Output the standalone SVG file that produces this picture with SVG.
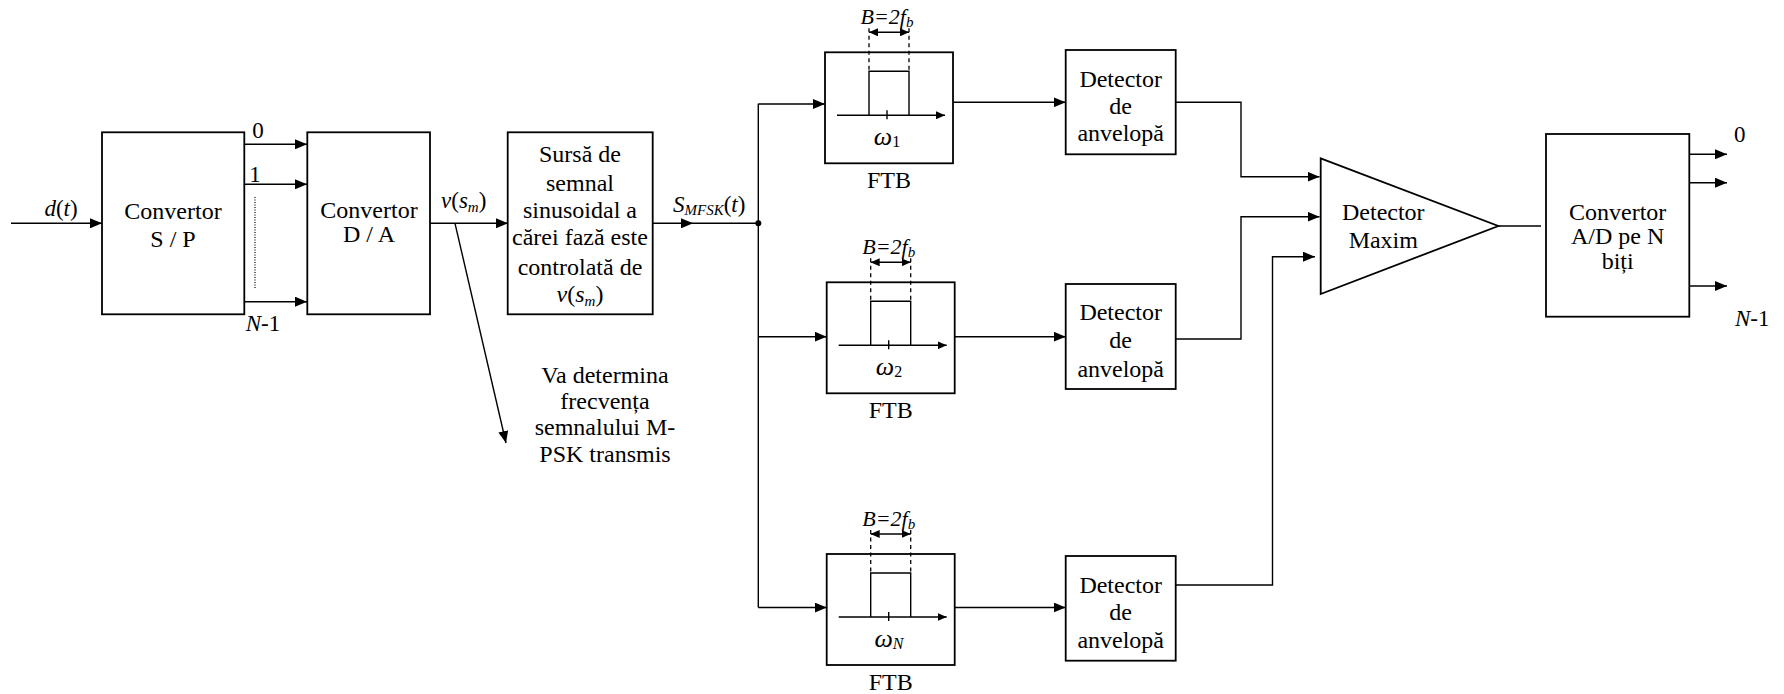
<svg xmlns="http://www.w3.org/2000/svg" width="1784" height="694" viewBox="0 0 1784 694" font-family="'Liberation Serif', 'Times New Roman', serif">
  <style>
    text { font-family: "Liberation Serif", "Times New Roman", serif; font-size: 24px; fill: #000; }
    .c { text-anchor: middle; }
    .it { font-style: italic; }
    .lbl { font-size: 23px; }
    .sub { font-size: 15px; font-style: italic; }
    .box { fill: #fff; stroke: #000; stroke-width: 1.8; }
    .ln { fill: none; stroke: #000; stroke-width: 1.4; }
    .arr { marker-end: url(#ah); }
    .dash { fill: none; stroke: #000; stroke-width: 1.3; stroke-dasharray: 4 3.5; }
    .dot { fill: none; stroke: #000; stroke-width: 1.2; stroke-dasharray: 1 1.5; }
    .om { font-size: 26px; font-style: italic; }
  </style>
  <defs>
    <marker id="ah" markerUnits="userSpaceOnUse" markerWidth="12" markerHeight="10" refX="12" refY="5" orient="auto">
      <path d="M0,0 L12,5 L0,10 z" fill="#000"/>
    </marker>
    <marker id="sm" markerUnits="userSpaceOnUse" markerWidth="9" markerHeight="8" refX="9" refY="4" orient="auto-start-reverse">
      <path d="M0,0 L9,4 L0,8 z" fill="#000"/>
    </marker>
    <!-- band-pass filter symbol, local coordinates with box origin at top-left -->
    <g id="ftb">
      <rect class="box" x="0" y="0" width="128" height="111"/>
      <path class="ln" d="M44,63 V19 H84 V63"/>
      <line class="ln" x1="12" y1="63" x2="120" y2="63" marker-end="url(#sm)"/>
      <line class="ln" x1="62" y1="58" x2="62" y2="67"/>
      <line class="dash" x1="44" y1="-24" x2="44" y2="19"/>
      <line class="dash" x1="84" y1="-24" x2="84" y2="19"/>
      <line class="ln" x1="44" y1="-20" x2="84" y2="-20" marker-start="url(#sm)" marker-end="url(#sm)"/>
      <text class="c it" x="62" y="-28" style="font-size:22px">B=2f<tspan class="sub" dy="3">b</tspan></text>
      <text class="c" x="64" y="136">FTB</text>
    </g>
  </defs>

  <!-- connectors -->
  <g id="connectors">
    <line class="ln arr" x1="11" y1="223.3" x2="102" y2="223.3"/>
    <line class="ln arr" x1="244" y1="144.3" x2="307" y2="144.3"/>
    <line class="ln arr" x1="244" y1="184.3" x2="307" y2="184.3"/>
    <line class="ln arr" x1="244" y1="301.7" x2="307" y2="301.7"/>
    <line class="dot" x1="255" y1="197" x2="255" y2="288"/>
    <line class="ln arr" x1="430" y1="223.3" x2="508" y2="223.3"/>
    <line class="ln arr" x1="455" y1="223.3" x2="506" y2="443"/>
    <line class="ln arr" x1="653" y1="223.3" x2="693" y2="223.3"/>
    <line class="ln" x1="693" y1="223.3" x2="758.3" y2="223.3"/>
    <circle cx="758.3" cy="223.3" r="3" fill="#000"/>
    <line class="ln" x1="758.3" y1="103.7" x2="758.3" y2="607.5"/>
    <line class="ln arr" x1="758.3" y1="104" x2="825" y2="104"/>
    <line class="ln arr" x1="758.3" y1="336.7" x2="826.7" y2="336.7"/>
    <line class="ln arr" x1="758.3" y1="607.5" x2="826.7" y2="607.5"/>
    <line class="ln arr" x1="953" y1="102.3" x2="1065.7" y2="102.3"/>
    <line class="ln arr" x1="955" y1="336.7" x2="1065.7" y2="336.7"/>
    <line class="ln arr" x1="955" y1="607.5" x2="1065.7" y2="607.5"/>
    <polyline class="ln arr" points="1175.7,102.3 1241,102.3 1241,176.7 1319.5,176.7"/>
    <polyline class="ln arr" points="1175.7,339 1241,339 1241,216.7 1319.5,216.7"/>
    <polyline class="ln arr" points="1175.7,585 1272.5,585 1272.5,256.7 1315,256.7"/>
    <line class="ln" x1="1498.3" y1="226" x2="1541" y2="226"/>
    <line class="ln arr" x1="1689.3" y1="154.3" x2="1727" y2="154.3"/>
    <line class="ln arr" x1="1689.3" y1="182.7" x2="1727" y2="182.7"/>
    <line class="ln arr" x1="1689.3" y1="286" x2="1727" y2="286"/>
  </g>

  <!-- connector labels -->
  <g id="labels">
    <text class="c lbl" x="61" y="215.7"><tspan class="it">d</tspan>(<tspan class="it">t</tspan>)</text>
    <text class="c lbl" x="258" y="138">0</text>
    <text class="c lbl" x="255" y="182">1</text>
    <text class="c lbl" x="263" y="331"><tspan class="it">N</tspan>-1</text>
    <text class="lbl" x="441" y="208"><tspan class="it">v</tspan>(<tspan class="it">s</tspan><tspan class="sub" dy="4">m</tspan><tspan dy="-4">)</tspan></text>
    <text class="lbl" x="673" y="211.7"><tspan class="it">S</tspan><tspan class="sub" dy="3">MFSK</tspan><tspan dy="-3">(</tspan><tspan class="it">t</tspan>)</text>
    <text class="c" x="605" y="383.3">Va determina</text>
    <text class="c" x="605" y="409">frecvența</text>
    <text class="c" x="605" y="435.3">semnalului M-</text>
    <text class="c" x="605" y="461.7">PSK transmis</text>
    <text class="lbl" x="1734" y="141.7">0</text>
    <text class="lbl" x="1735" y="326"><tspan class="it">N</tspan>-1</text>
  </g>

  <g id="sp">
    <rect class="box" x="102" y="132.3" width="142.3" height="182"/>
    <text class="c" x="173" y="219">Convertor</text>
    <text class="c" x="173" y="246.7">S / P</text>
  </g>

  <g id="da">
    <rect class="box" x="307.3" y="132.3" width="122.7" height="182"/>
    <text class="c" x="369" y="218.3">Convertor</text>
    <text class="c" x="369" y="241.7">D / A</text>
  </g>

  <g id="source">
    <rect class="box" x="507.7" y="132.3" width="145" height="182"/>
    <text class="c" x="580" y="161.7">Sursă de</text>
    <text class="c" x="580" y="190.7">semnal</text>
    <text class="c" x="580" y="218.3">sinusoidal a</text>
    <text class="c" x="580" y="245.3">cărei fază este</text>
    <text class="c" x="580" y="274.7">controlată de</text>
    <text class="c" x="580" y="301.7"><tspan class="it">v</tspan>(<tspan class="it">s</tspan><tspan class="sub" dy="4">m</tspan><tspan dy="-4">)</tspan></text>
  </g>

  <g id="ftb1">
    <use href="#ftb" x="825" y="52.3"/>
    <text class="c" x="887" y="145"><tspan class="om">ω</tspan><tspan style="font-size:16px" dy="2">1</tspan></text>
  </g>
  <g id="ftb2">
    <use href="#ftb" x="826.7" y="282.3"/>
    <text class="c" x="889" y="375"><tspan class="om">ω</tspan><tspan style="font-size:16px" dy="2">2</tspan></text>
  </g>
  <g id="ftb3">
    <use href="#ftb" x="826.7" y="554"/>
    <text class="c" x="889" y="646.7"><tspan class="om">ω</tspan><tspan class="sub" style="font-size:16px" dy="2">N</tspan></text>
  </g>

  <g id="det1">
    <rect class="box" x="1065.7" y="50" width="110" height="104.3"/>
    <text class="c" x="1120.7" y="86.7">Detector</text>
    <text class="c" x="1120.7" y="114.3">de</text>
    <text class="c" x="1120.7" y="141">anvelopă</text>
  </g>
  <g id="det2">
    <rect class="box" x="1065.7" y="284" width="110" height="105"/>
    <text class="c" x="1120.7" y="320">Detector</text>
    <text class="c" x="1120.7" y="348.3">de</text>
    <text class="c" x="1120.7" y="376.7">anvelopă</text>
  </g>
  <g id="det3">
    <rect class="box" x="1065.7" y="556" width="110" height="104.7"/>
    <text class="c" x="1120.7" y="593.3">Detector</text>
    <text class="c" x="1120.7" y="620">de</text>
    <text class="c" x="1120.7" y="648.3">anvelopă</text>
  </g>

  <g id="maxdet">
    <polygon class="box" points="1320.7,158.3 1498.3,226 1320.7,294"/>
    <text class="c" x="1383.3" y="220">Detector</text>
    <text class="c" x="1383.3" y="248.3">Maxim</text>
  </g>

  <g id="adc">
    <rect class="box" x="1546" y="134" width="143.3" height="182.7"/>
    <text class="c" x="1617.7" y="220">Convertor</text>
    <text class="c" x="1617.7" y="244">A/D pe N</text>
    <text class="c" x="1617.7" y="269">biți</text>
  </g>
</svg>
